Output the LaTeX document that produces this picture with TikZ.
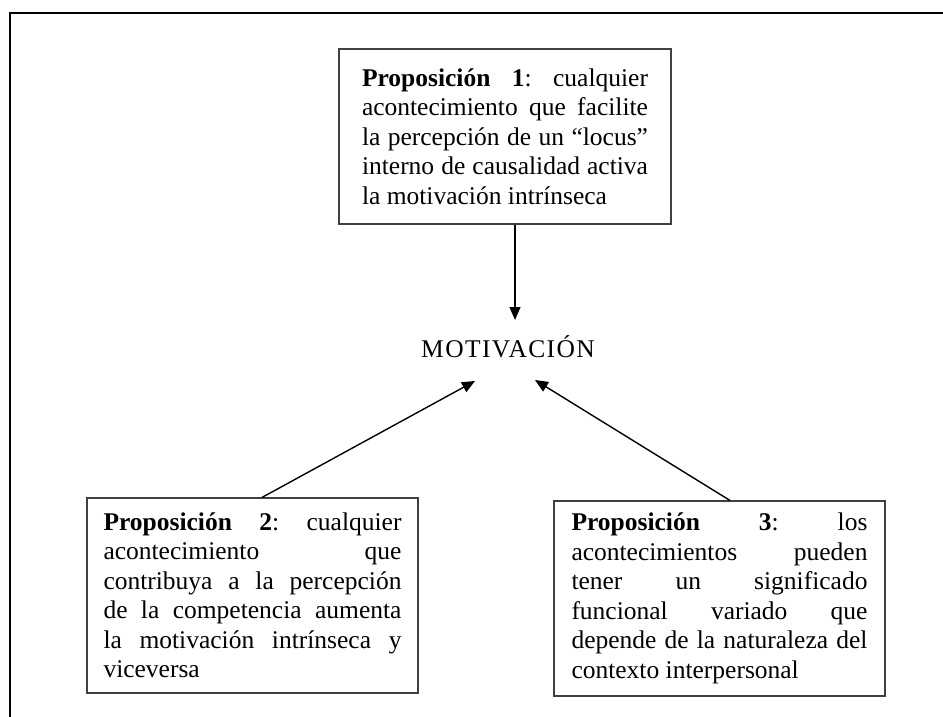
\documentclass[tikz,border=0pt]{standalone}
\usepackage{fontspec}
\setmainfont{Liberation Serif}
\usetikzlibrary{arrows.meta}
\newcommand{\jline}[1]{\makebox[\hsize][s]{\spaceskip=0pt\xspaceskip=0pt #1}\\}
\begin{document}
\begin{tikzpicture}[x=1pt,y=-1pt,
  propbox/.style={draw=black!75,line width=1.1pt,rectangle,align=justify,
    font=\fontsize{25.5}{29.5}\selectfont\frenchspacing,inner ysep=0pt},
  arr/.style={draw=black,line width=1.4pt,-{Triangle[length=13pt,width=11pt]}}]
\useasboundingbox (0,0) rectangle (943,717);
\draw[line width=2pt] (943,13) -- (10,13) -- (10,717);

\node[propbox,text width=286pt,inner xsep=23pt,minimum height=175pt] (b1) at (505,136.5)
 {\noindent\jline{\textbf{Proposición 1}: cualquier}%
  \jline{acontecimiento que facilite}%
  \jline{la percepción de un “locus”}%
  \jline{interno de causalidad activa}%
  la motivación intrínseca};

\node[propbox,text width=298pt,inner xsep=16.5pt,minimum height=195pt] (b2) at (252.5,595.5)
 {\noindent\jline{\textbf{Proposición 2}: cualquier}%
  \jline{acontecimiento que}%
  \jline{contribuya a la percepción}%
  \jline{de la competencia aumenta}%
  \jline{la motivación intrínseca y}%
  viceversa};

\node[propbox,text width=296pt,inner xsep=17.5pt,minimum height=195pt] (b3) at (719.5,598.5)
 {\noindent\jline{\textbf{Proposición 3}: los}%
  \jline{acontecimientos pueden}%
  \jline{tener un significado}%
  \jline{funcional variado que}%
  \jline{depende de la naturaleza del}%
  contexto interpersonal};

\node[anchor=base west,inner sep=0pt,font=\fontsize{25.5}{29}\selectfont\addfontfeature{LetterSpace=5.5}] (mot) at (421,357.7) {MOTIVACIÓN};

\coordinate (t1) at (515,320);
\coordinate (t2) at (475,381);
\coordinate (t3) at (535,380);
\draw[arr] ([xshift=10pt]b1.south) -- (t1);
\draw[arr] ([xshift=9.5pt]b2.north) -- (t2);
\draw[arr] ([xshift=10.5pt]b3.north) -- (t3);
\end{tikzpicture}
\end{document}
